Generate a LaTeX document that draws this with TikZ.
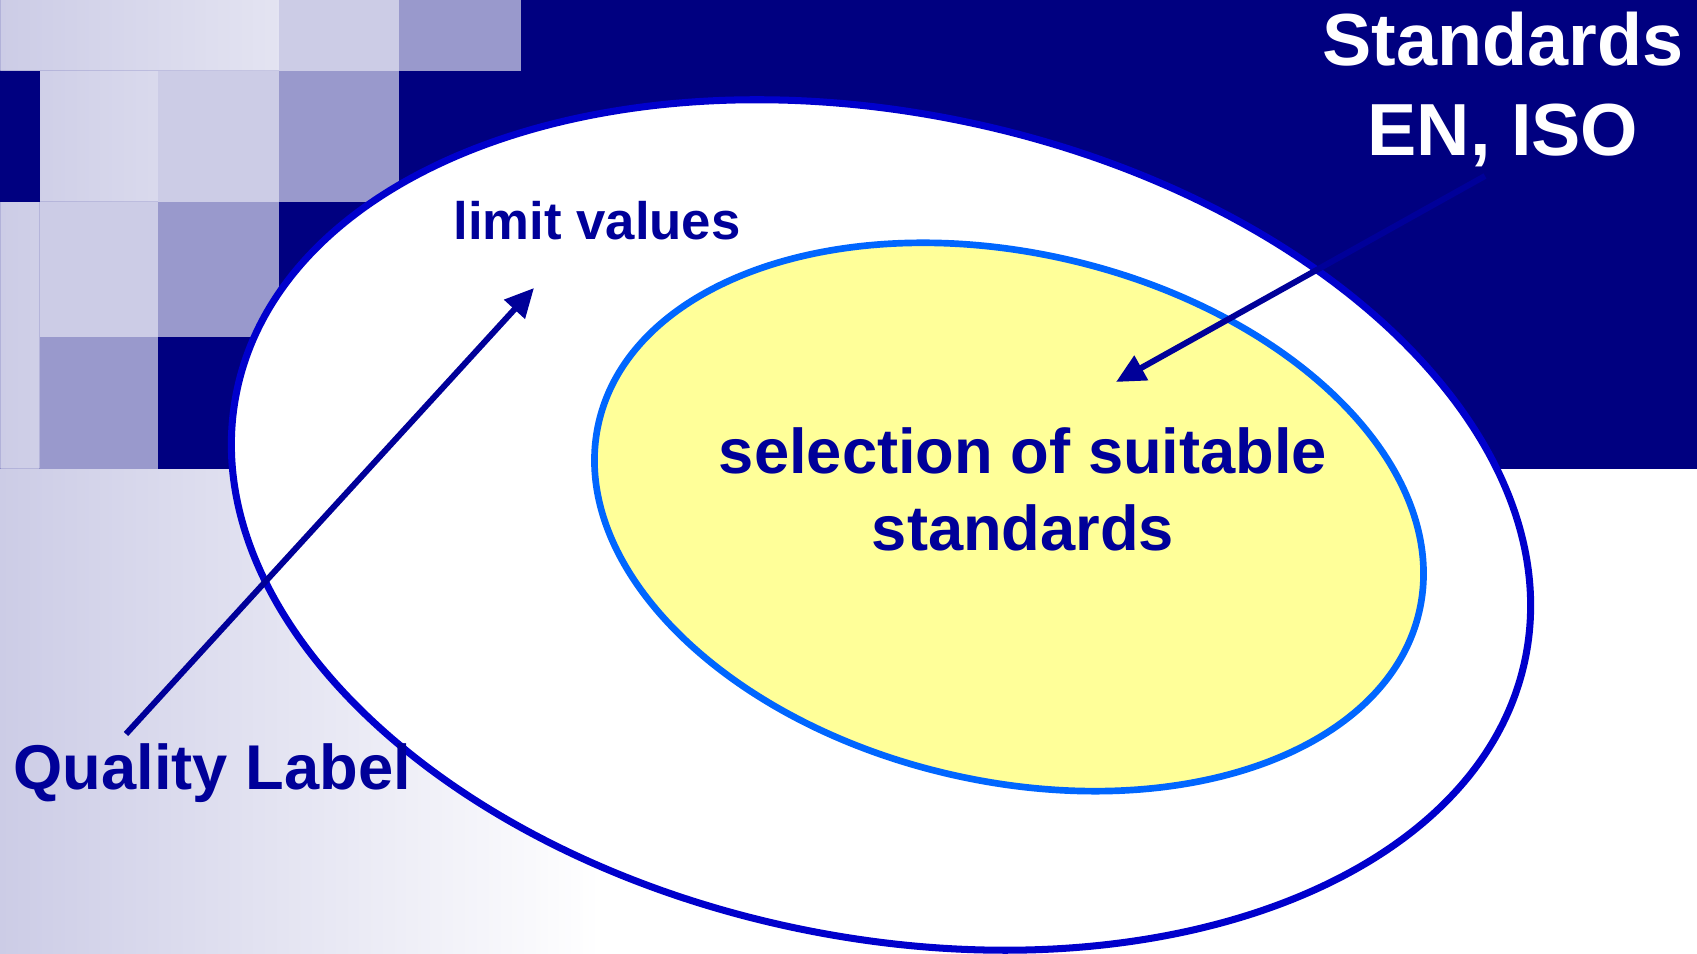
\documentclass[tikz,border=0pt]{standalone}
\usepackage{fontspec}
\setmainfont{Liberation Sans}
\usetikzlibrary{arrows.meta,shapes.geometric}

\definecolor{slidenavy}{RGB}{0,0,128}
\definecolor{textblue}{RGB}{0,0,153}
\definecolor{ringblue}{RGB}{0,0,204}
\definecolor{skyline}{RGB}{0,102,255}
\definecolor{paleyellow}{RGB}{255,255,153}
\definecolor{lavender}{RGB}{204,204,230}
\definecolor{midlav}{RGB}{153,153,204}

\begin{document}
\begin{tikzpicture}[
    bluetext/.style={text=textblue, inner sep=0pt, font=\bfseries\fontsize{18}{21.9}\selectfont},
    pointer/.style={-{Triangle[length=0.29cm,width=0.27cm]}, line width=1.7pt, draw=textblue}]
  \useasboundingbox (0,0) rectangle (16.97,-9.54);

  % slide background
  \fill[white] (0,0) rectangle (16.97,-9.54);
  \shade[left color=lavender, right color=white] (0,0) rectangle (6,-9.54);
  \fill[slidenavy, even odd rule] (0,0) rectangle (16.97,-4.69)
      (0,0) rectangle (2.79,-0.71) (0.40,-0.71) rectangle (1.58,-2.02)
      (0,-2.02) rectangle (0.40,-4.69);
  \fill[lavender] (2.79,0) rectangle (3.99,-0.71);
  \fill[lavender] (1.58,-0.71) rectangle (2.79,-2.02);
  \fill[lavender] (0.40,-2.02) rectangle (1.58,-3.37);
  \fill[midlav] (3.99,0) rectangle (5.21,-0.71);
  \fill[midlav] (2.79,-0.71) rectangle (3.99,-2.02);
  \fill[midlav] (1.58,-2.02) rectangle (2.79,-3.37);
  \fill[midlav] (0.40,-3.37) rectangle (1.58,-4.69);

  % the two sets
  \node[ellipse, draw=ringblue, fill=white, line width=2pt, inner sep=0pt,
        minimum width=13.16cm, minimum height=8.24cm, rotate=-11.8] (allstd) at (8.81,-5.25) {};
  \node[ellipse, draw=skyline, fill=paleyellow, line width=1.9pt, inner sep=0pt,
        minimum width=8.42cm, minimum height=5.28cm, rotate=-13] (chosen) at (10.09,-5.17) {};

  % texts
  \node[anchor=north, align=center, text=white, inner sep=0pt,
        font=\bfseries\fontsize{21}{25.6}\selectfont] (standards) at (15.03,-0.11) {Standards\\EN, ISO};
  \node[bluetext, anchor=base, font=\bfseries\fontsize{15}{18}\selectfont] (limit) at (5.97,-2.40) {limit values};
  \node[bluetext, anchor=north, align=center] (selection) at (10.23,-4.27) {selection of suitable\\standards};
  \node[bluetext, anchor=base west] (quality) at (0.13,-7.90) {Quality Label};

  % pointers
  \coordinate (qfoot) at (1.26,-7.34);
  \coordinate (qtip) at (5.34,-2.88);
  \coordinate (sfoot) at (14.85,-1.76);
  \coordinate (stip) at (11.16,-3.82);
  \draw[pointer] (qfoot) -- (qtip);
  \draw[pointer] (sfoot) -- (stip);
\end{tikzpicture}
\end{document}
